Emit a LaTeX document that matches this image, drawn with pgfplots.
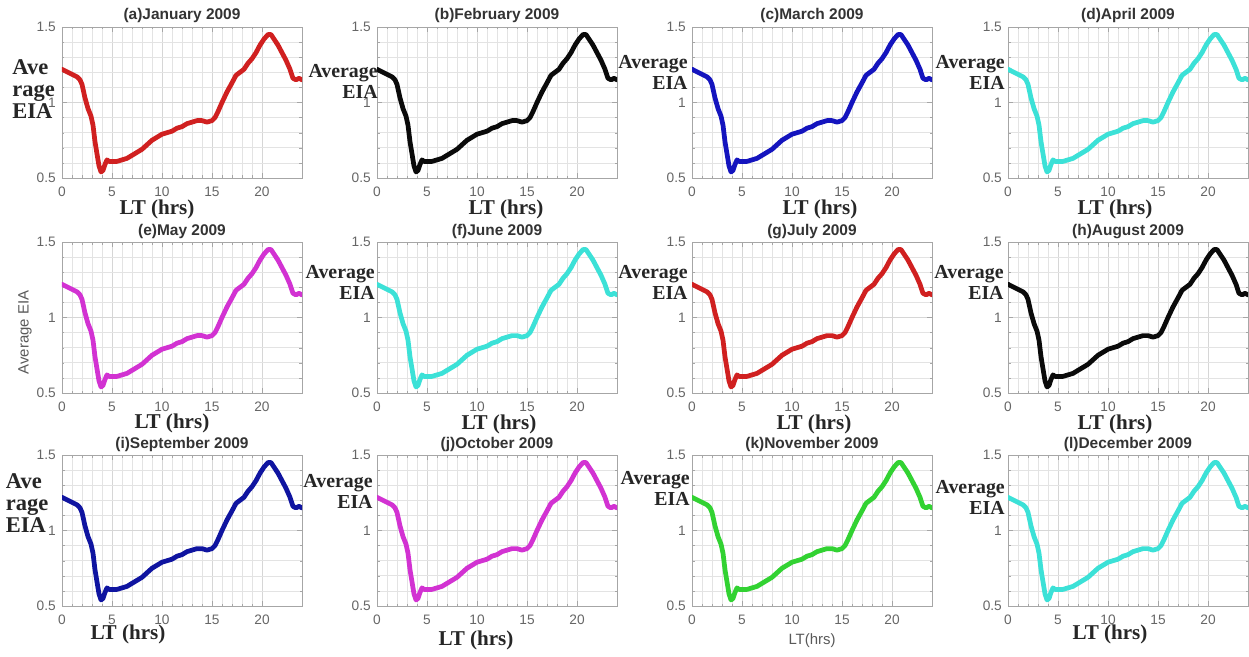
\documentclass[border=0pt]{standalone}
\usepackage{fontspec}
\setmainfont{Liberation Sans}
\newfontfamily\tnr{Liberation Serif}
\usepackage{pgfplots}
\usepackage{pgfplotstable}
\pgfplotsset{compat=1.18}

\definecolor{cRed}{RGB}{208,32,32}
\definecolor{cBlack}{RGB}{10,10,10}
\definecolor{cBlue}{RGB}{20,20,190}
\definecolor{cNavy}{RGB}{15,20,160}
\definecolor{cCyan}{RGB}{60,225,215}
\definecolor{cMag}{RGB}{210,50,210}
\definecolor{cGreen}{RGB}{50,210,50}

\pgfplotstableread{
t v
0.0 1.22
0.3 1.21
0.6 1.20
0.9 1.19
1.2 1.18
1.5 1.17
1.8 1.15
2.0 1.12
2.3 1.03
2.6 0.96
2.9 0.91
3.1 0.85
3.3 0.74
3.5 0.66
3.7 0.58
3.9 0.54
4.1 0.55
4.3 0.59
4.5 0.62
4.7 0.61
5.0 0.61
5.5 0.61
6.0 0.62
6.5 0.63
7.0 0.65
7.5 0.67
8.0 0.69
8.5 0.72
9.0 0.75
9.5 0.77
10.0 0.79
10.5 0.80
11.0 0.81
11.5 0.83
12.0 0.84
12.5 0.86
13.0 0.87
13.5 0.88
14.0 0.88
14.5 0.87
15.0 0.88
15.3 0.90
15.6 0.94
16.0 1.00
16.5 1.07
17.0 1.13
17.4 1.18
17.8 1.20
18.2 1.22
18.6 1.26
19.0 1.29
19.4 1.33
19.8 1.38
20.2 1.42
20.6 1.45
20.9 1.45
21.2 1.42
21.6 1.38
22.0 1.33
22.4 1.28
22.8 1.22
23.1 1.16
23.4 1.15
23.7 1.16
24.0 1.15
}\eia

\pgfplotsset{
  panel/.style={
    scale only axis, width=4.8cm, height=3.02cm,
    anchor=north west,
    xmin=0, xmax=24, ymin=0.5, ymax=1.5,
    xtick={0,5,10,15,20}, ytick={0.5,1,1.5},
    minor x tick num=4, minor y tick num=4,
    grid=both,
    major grid style={gray!32, line width=0.4pt},
    minor grid style={gray!22, line width=0.35pt},
    tick align=inside, major tick length=0.1cm, minor tick length=0.05cm,
    tick style={gray!70},
    axis line style={gray!70, line width=0.5pt},
    /pgf/number format/assume math mode=true,
    ticklabel style={font=\fontsize{7.8}{9}\selectfont, text=black!60},
    xticklabel style={yshift=-0.06cm},
    every axis title/.style={font=\bfseries\fontsize{8.8}{10}\selectfont, text=black!80,
      at={(0.5,1)}, anchor=base, yshift=0.14cm},
    every axis y label/.style={},
    every axis x label/.style={},
  },
  ylab/.style 2 args={ylabel={Average\\EIA},
    every axis y label/.style={at={(axis description cs:#1,#2)}, anchor=east, inner sep=0pt,
      align=right, font=\tnr\bfseries\fontsize{11.3}{12}\selectfont, text=black!85}},
  ylabthree/.style 2 args={ylabel={Ave\\rage\\EIA},
    every axis y label/.style={at={(axis description cs:#1,#2)}, anchor=west, inner sep=0pt,
      align=left, font=\tnr\bfseries\fontsize{12.8}{12.4}\selectfont, text=black!85}},
  xlab/.style 2 args={xlabel={LT (hrs)},
    every axis x label/.style={at={(axis description cs:#1,#2)}, anchor=center,
      font=\tnr\bfseries\fontsize{12}{13}\selectfont, text=black!85}},
  curve/.style={line width=2.7pt, line join=round, line cap=round},
}

\begin{document}
\begin{tikzpicture}
\path[use as bounding box] (0,0) rectangle (24.98cm,-13.14cm);

% Row 1
\begin{axis}[panel, at={(1.24cm,-0.54cm)}, title={(a)January 2009},
  ylabthree={-0.208}{0.59}, xlab={0.396}{-0.207}]
\addplot[curve, cRed] table[x=t,y=v]{\eia};
\end{axis}
\begin{axis}[panel, at={(7.54cm,-0.54cm)}, title={(b)February 2009},
  ylab={0.004}{0.64}, xlab={0.5375}{-0.21}]
\addplot[curve, cBlack] table[x=t,y=v]{\eia};
\end{axis}
\begin{axis}[panel, at={(13.84cm,-0.54cm)}, title={(c)March 2009},
  ylab={-0.017}{0.70}, xlab={0.533}{-0.21}]
\addplot[curve, cBlue] table[x=t,y=v]{\eia};
\end{axis}
\begin{axis}[panel, at={(20.16cm,-0.54cm)}, title={(d)April 2009},
  ylab={-0.012}{0.70}, xlab={0.446}{-0.205}]
\addplot[curve, cCyan] table[x=t,y=v]{\eia};
\end{axis}

% Row 2
\begin{axis}[panel, at={(1.24cm,-4.84cm)}, title={(e)May 2009},
  ylabel={Average EIA},
  every axis y label/.style={at={(axis description cs:-0.154,0.40)}, anchor=center,
    rotate=90, font=\fontsize{8.5}{10}\selectfont, text=black!65},
  xlab={0.458}{-0.20}]
\addplot[curve, cMag] table[x=t,y=v]{\eia};
\end{axis}
\begin{axis}[panel, at={(7.54cm,-4.84cm)}, title={(f)June 2009},
  ylab={-0.008}{0.735}, xlab={0.508}{-0.21}]
\addplot[curve, cCyan] table[x=t,y=v]{\eia};
\end{axis}
\begin{axis}[panel, at={(13.84cm,-4.84cm)}, title={(g)July 2009},
  ylab={-0.017}{0.735}, xlab={0.508}{-0.21}]
\addplot[curve, cRed] table[x=t,y=v]{\eia};
\end{axis}
\begin{axis}[panel, at={(20.16cm,-4.84cm)}, title={(h)August 2009},
  ylab={-0.017}{0.73}, xlab={0.446}{-0.21}]
\addplot[curve, cBlack] table[x=t,y=v]{\eia};
\end{axis}

% Row 3
\begin{axis}[panel, at={(1.24cm,-9.10cm)}, title={(i)September 2009},
  ylabthree={-0.235}{0.68}, xlab={0.275}{-0.185}]
\addplot[curve, cNavy] table[x=t,y=v]{\eia};
\end{axis}
\begin{axis}[panel, at={(7.54cm,-9.10cm)}, title={(j)October 2009},
  ylab={-0.017}{0.76}, xlab={0.4125}{-0.23}]
\addplot[curve, cMag] table[x=t,y=v]{\eia};
\end{axis}
\begin{axis}[panel, at={(13.84cm,-9.10cm)}, title={(k)November 2009},
  ylab={-0.008}{0.78},
  xlabel={LT(hrs)},
  every axis x label/.style={at={(axis description cs:0.5,-0.23)}, anchor=center,
    font=\fontsize{8.5}{10}\selectfont, text=black!65}]
\addplot[curve, cGreen] table[x=t,y=v]{\eia};
\end{axis}
\begin{axis}[panel, at={(20.16cm,-9.10cm)}, title={(l)December 2009},
  ylab={-0.012}{0.72}, xlab={0.425}{-0.19}]
\addplot[curve, cCyan] table[x=t,y=v]{\eia};
\end{axis}
\end{tikzpicture}
\end{document}
